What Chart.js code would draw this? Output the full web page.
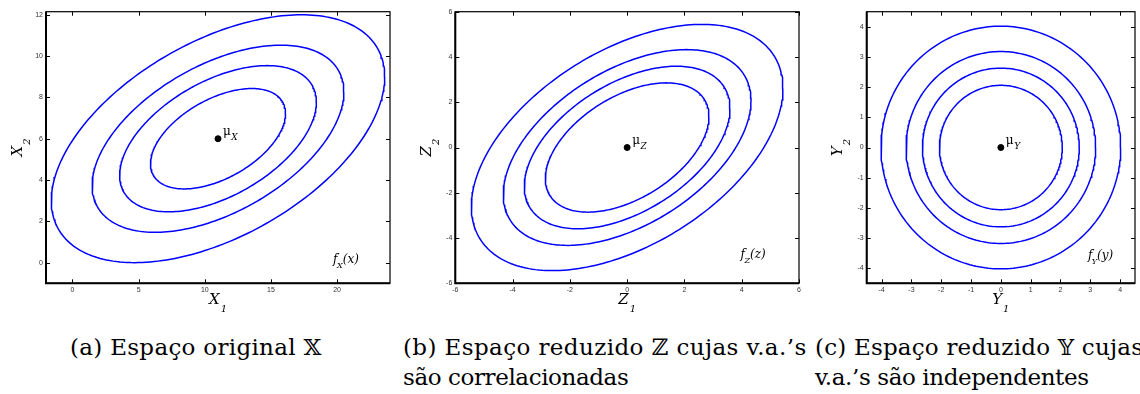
<!DOCTYPE html>
<html>
<head>
<meta charset="utf-8">
<script src="https://cdn.jsdelivr.net/npm/chart.js@4.4.1/dist/chart.umd.min.js"></script>
<style>
  html, body { margin: 0; padding: 0; background: #fff; width: 1140px; height: 394px; overflow: hidden; }
  canvas { position: absolute; top: 0; }
  .cap {
    position: absolute;
    font-family: "DejaVu Serif", serif;
    font-size: 23px;
    line-height: 30px;
    color: #000;
    white-space: nowrap;
  }
</style>
</head>
<body>
<canvas id="panelX" width="395" height="325" style="left:0px"></canvas>
<canvas id="panelZ" width="410" height="325" style="left:395px"></canvas>
<canvas id="panelY" width="335" height="325" style="left:805px"></canvas>
<div class="cap" style="left:70px; top:332px"><span style="letter-spacing:0.3px">(a) Espaço original 𝕏</span></div>
<div class="cap" style="left:403px; top:332px"><span style="letter-spacing:0.4px">(b) Espaço reduzido ℤ cujas v.a.’s</span><br><span style="letter-spacing:-0.4px">são correlacionadas</span></div>
<div class="cap" style="left:815px; top:332px"><span style="letter-spacing:0.2px">(c) Espaço reduzido 𝕐 cujas</span><br><span style="letter-spacing:-0.4px">v.a.’s são independentes</span></div>

<script>
// Original space X: Gaussian mean, standard deviations, correlation, contour radii
const xMean = [11, 6];
const xStd = [3.15, 1.5];
const xCorr = 0.5;
const xLevels = [4.0, 3.02, 2.36, 1.62];
const xTicksH = [0, 5, 10, 15, 20];
const xTicksV = [0, 2, 4, 6, 8, 10, 12];

// Reduced space Z (correlated components)
const zMean = [0, 0];
const zStd = [1.36, 1.36];
const zCorr = 0.48;
const zLevels = [4.0, 3.18, 2.64, 2.1];
const zTicksH = [-6, -4, -2, 0, 2, 4, 6];
const zTicksV = [-6, -4, -2, 0, 2, 4, 6];

// Reduced space Y (independent components)
const yMean = [0, 0];
const yStd = [1, 1];
const yCorr = 0;
const yLevels = [4.02, 3.18, 2.63, 2.06];
const yTicksH = [-4, -3, -2, -1, 0, 1, 2, 3, 4];
const yTicksV = [-4, -3, -2, -1, 0, 1, 2, 3, 4];

const SAMPLES = 240;
const SERIF = '"DejaVu Serif", serif';

// Level set of a bivariate normal at Mahalanobis radius r
function contour(mean, std, corr, r) {
  const pts = [];
  const k = Math.sqrt(1 - corr * corr);
  for (let i = 0; i <= SAMPLES; i++) {
    const t = 2 * Math.PI * i / SAMPLES;
    const c = Math.cos(t), s = Math.sin(t);
    pts.push({
      x: mean[0] + r * std[0] * c,
      y: mean[1] + r * std[1] * (corr * c + k * s)
    });
  }
  return pts;
}

// Frame, inward ticks, axis titles and text annotations
const decor = {
  id: 'decor',
  afterDatasetsDraw(chart, args, o) {
    const { ctx, chartArea: a, scales: { x, y } } = chart;
    ctx.save();

    ctx.strokeStyle = '#000';
    ctx.lineWidth = 1;
    ctx.beginPath();
    x.ticks.forEach(t => {
      const p = Math.round(x.getPixelForValue(t.value)) + 0.5;
      ctx.moveTo(p, a.bottom); ctx.lineTo(p, a.bottom - 4);
      ctx.moveTo(p, a.top); ctx.lineTo(p, a.top + 4);
    });
    y.ticks.forEach(t => {
      const p = Math.round(y.getPixelForValue(t.value)) + 0.5;
      ctx.moveTo(a.left, p); ctx.lineTo(a.left + 4, p);
      ctx.moveTo(a.right, p); ctx.lineTo(a.right - 4, p);
    });
    ctx.stroke();

    ctx.lineWidth = 1.2;
    ctx.strokeRect(a.left, a.top, a.right - a.left, a.bottom - a.top);
    ctx.lineWidth = 2;
    ctx.beginPath();
    ctx.moveTo(a.left, a.top); ctx.lineTo(a.left, a.bottom); ctx.lineTo(a.right, a.bottom);
    ctx.stroke();

    ctx.fillStyle = '#000';
    ctx.textBaseline = 'alphabetic';
    ctx.textAlign = 'left';

    const mainFont = 'italic 15px ' + SERIF;
    const subFont = 'italic 10px ' + SERIF;
    const drawTitle = (cx, main, sub) => {
      ctx.font = mainFont; const wm = ctx.measureText(main).width;
      ctx.font = subFont; const ws = ctx.measureText(sub).width;
      const x0 = cx - (wm + ws + 1) / 2;
      ctx.font = mainFont; ctx.fillText(main, x0, 0);
      ctx.font = subFont; ctx.fillText(sub, x0 + wm + 1, 7.8);
    };

    // horizontal axis title
    ctx.save();
    ctx.translate(0, a.bottom + 21);
    drawTitle((a.left + a.right) / 2, o.letter, '1');
    ctx.restore();

    // vertical axis title
    ctx.save();
    ctx.translate(a.left - 24.3, (a.top + a.bottom) / 2);
    ctx.rotate(-Math.PI / 2);
    drawTitle(0, o.letter, '2');
    ctx.restore();

    // mean label
    const mx = x.getPixelForValue(o.mean[0]);
    const my = y.getPixelForValue(o.mean[1]);
    ctx.font = '12px ' + SERIF;
    ctx.fillText('μ', mx + 5, my - 4);
    const wmu = ctx.measureText('μ').width;
    ctx.font = 'italic 9px ' + SERIF;
    ctx.fillText(o.letter, mx + 5 + wmu + 0.5, my + 1);

    // density label
    const fx = x.getPixelForValue(o.fPos[0]);
    const fy = y.getPixelForValue(o.fPos[1]);
    ctx.font = 'italic 12px ' + SERIF;
    ctx.fillText('f', fx, fy);
    const wf = ctx.measureText('f').width;
    ctx.font = 'italic 8px ' + SERIF;
    ctx.fillText(o.letter, fx + wf - 0.5, fy + 5);
    const wsub = ctx.measureText(o.letter).width;
    ctx.font = 'italic 12px ' + SERIF;
    ctx.fillText('(' + o.lower + ')', fx + wf + wsub - 0.5, fy);

    ctx.restore();
  }
};

Chart.defaults.font.family = '"Liberation Sans", Arial, sans-serif';
Chart.defaults.font.size = 7;
Chart.defaults.color = '#333';

function makePanel(id, p) {
  const datasets = p.levels.map(r => ({
    data: contour(p.mean, p.std, p.corr, r),
    showLine: true,
    borderColor: '#0000ff',
    borderWidth: 1.5,
    pointRadius: 0,
    fill: false
  }));
  datasets.push({
    data: [{ x: p.mean[0], y: p.mean[1] }],
    pointRadius: 3,
    pointBackgroundColor: '#000',
    pointBorderColor: '#000',
    showLine: false
  });
  const canvas = document.getElementById(id);
  const axisCommon = (ticks, min, max) => ({
    type: 'linear',
    min, max,
    grid: { display: false, drawTicks: false },
    border: { display: false },
    afterBuildTicks: s => { s.ticks = ticks.map(v => ({ value: v })); },
    ticks: { autoSkip: false, maxRotation: 0, padding: 3, color: '#333' }
  });
  return new Chart(canvas, {
    type: 'scatter',
    data: { datasets },
    options: {
      responsive: false,
      animation: false,
      events: [],
      layout: { padding: { top: p.area.top, right: canvas.width - p.area.right, left: 0, bottom: 0 } },
      plugins: {
        legend: { display: false },
        tooltip: { enabled: false },
        decor: { letter: p.letter, lower: p.lower, mean: p.mean, fPos: p.fPos }
      },
      scales: {
        x: Object.assign(axisCommon(p.ticksH, p.xRange[0], p.xRange[1]), {
          afterFit: s => { s.height = canvas.height - p.area.bottom; }
        }),
        y: Object.assign(axisCommon(p.ticksV, p.yRange[0], p.yRange[1]), {
          afterFit: s => { s.width = p.area.left; }
        })
      }
    },
    plugins: [decor]
  });
}

makePanel('panelX', {
  mean: xMean, std: xStd, corr: xCorr, levels: xLevels,
  ticksH: xTicksH, ticksV: xTicksV, xRange: [-2, 24], yRange: [-1, 12.15],
  area: { left: 46, top: 11.7, right: 391, bottom: 283.3 },
  letter: 'X', lower: 'x', fPos: [19.7, 0.0]
});
makePanel('panelZ', {
  mean: zMean, std: zStd, corr: zCorr, levels: zLevels,
  ticksH: zTicksH, ticksV: zTicksV, xRange: [-6, 6], yRange: [-6, 6],
  area: { left: 60.3, top: 11.7, right: 404, bottom: 283.3 },
  letter: 'Z', lower: 'z', fPos: [3.96, -4.9]
});
makePanel('panelY', {
  mean: yMean, std: yStd, corr: yCorr, levels: yLevels,
  ticksH: yTicksH, ticksV: yTicksV, xRange: [-4.5, 4.5], yRange: [-4.5, 4.5],
  area: { left: 61.7, top: 11.7, right: 334, bottom: 283.3 },
  letter: 'Y', lower: 'y', fPos: [2.92, -3.68]
});
</script>
</body>
</html>
